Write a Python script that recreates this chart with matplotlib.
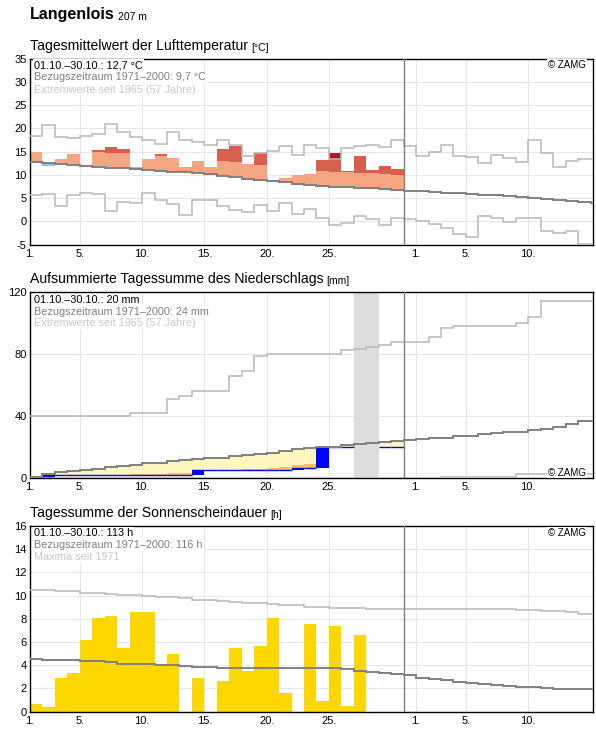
import numpy as np
import matplotlib.pyplot as plt

plt.rcParams['font.family'] = ['Liberation Sans', 'DejaVu Sans']
plt.rcParams['axes.unicode_minus'] = False

# --- Data (day 1 = 1. Oktober, day 32 = 1. November) ---
DAYS_OBS = np.arange(1, 31)
EDGES = np.arange(1, 48)

temp_mean = [14.8, 11.9, 13.4, 14.4, 11.7, 15.4, 15.9, 15.6, 11.6, 13.4,
             14.4, 13.5, 11.6, 12.9, 11.6, 15.6, 16.1, 12.4, 14.6, np.nan,
             9.4, 9.9, 10.1, 13.1, 14.6, 10.7, 14.1, 11.1, 11.8, 11.2]
temp_normal = [12.8, 12.6, 12.3, 12.1, 11.9, 11.7, 11.5, 11.5, 11.3, 11.1,
               10.9, 10.6, 10.5, 10.3, 10.1, 9.7, 9.5, 9.1, 8.9, 8.6,
               8.4, 8.1, 7.9, 7.6, 7.4, 7.3, 7.2, 7.1, 7.0, 6.8,
               6.6, 6.4, 6.3, 6.1, 6.0, 5.9, 5.7, 5.6, 5.4, 5.3,
               5.0, 4.8, 4.5, 4.3, 4.1, 4.0]
temp_max = [18.4, 20.7, 18.1, 17.9, 18.4, 18.8, 21.0, 19.1, 18.1, 17.4,
            16.6, 19.1, 17.4, 17.1, 16.3, 17.5, 16.4, 14.1, 14.7, 15.1,
            16.1, 14.3, 16.4, 15.8, 13.4, 15.8, 16.1, 16.4, 16.0, 17.4,
            16.2, 14.1, 14.9, 16.4, 14.1, 13.8, 12.6, 14.3, 13.6, 12.7,
            17.5, 14.7, 11.6, 12.9, 13.4, 13.4]
temp_min = [5.7, 5.9, 3.2, 5.7, 6.1, 5.9, 2.3, 4.2, 4.0, 6.1,
            4.6, 3.8, 1.4, 4.6, 4.6, 3.2, 2.5, 1.9, 3.4, 2.1,
            4.0, 1.6, 2.7, 0.6, -0.9, -0.3, 1.2, 0.4, -0.9, 0.6,
            0.4, 0.0, -0.5, -1.4, -2.8, -3.4, 1.2, 0.6, -0.1, 0.6,
            0.6, -2.1, -2.6, -2.1, -4.8, -4.8]
WARM_STEP = 3.2

prec_sum = [0.0, 2.0, 2.0, 2.0, 2.0, 2.0, 2.0, 2.0, 2.0, 2.0,
            2.0, 2.0, 2.0, 5.2, 5.2, 5.2, 5.2, 5.2, 5.2, 5.2,
            5.2, 6.5, 6.5, 19.9, 19.9, 19.9, np.nan, np.nan, 19.9, 19.9]
prec_dry = [0, 0, 0, 0, 0, 0, 0, 0, 3.0, 3.0,
            3.0, 3.6, 3.6, 4.0, 4.5, 4.8, 5.2, 6.0, 6.0, 6.7,
            7.6, 8.3, 9.4, 10.0, 10.5, 11.0, np.nan, np.nan, 12.0, 12.5]
prec_normal = [1.1, 2.6, 3.9, 4.5, 5.6, 6.3, 7.1, 8.0, 8.9, 9.6,
               10.0, 10.9, 11.5, 12.2, 12.8, 13.4, 14.3, 15.1, 15.9, 16.6,
               17.4, 18.6, 19.6, 20.1, 20.5, 21.2, 22.0, 22.7, 23.3, 24.0,
               24.8, 25.2, 25.7, 26.1, 27.0, 27.6, 28.5, 29.1, 29.6, 30.0,
               30.9, 32.0, 33.2, 35.2, 36.9, 36.9]
prec_max = [40.0, 40.0, 40.0, 40.0, 40.0, 40.0, 40.0, 40.0, 42.1, 42.1,
            42.1, 51.2, 52.9, 56.4, 56.4, 56.4, 65.9, 69.5, 79.0, 79.9,
            79.9, 79.9, 79.9, 79.9, 79.9, 82.7, 83.6, 84.5, 86.0, 87.7,
            87.7, 87.7, 91.4, 97.0, 98.5, 98.5, 98.5, 98.5, 98.5, 100.5,
            104.1, 114.5, 114.5, 114.5, 114.5, 114.5]
prec_min = [0] * 33 + [1.0] * 6 + [2.8] * 7
prec_missing = (27, 29)

sun_hours = [0.66, 0.37, 2.88, 3.31, 6.2, 8.1, 8.27, 5.5, 8.6, 8.6,
             4.0, 4.99, 0, 2.88, 0, 2.65, 5.5, 3.5, 5.68, 8.1,
             1.6, 0, 7.58, 0.92, 7.4, 0.49, 6.63, 0, 0, 0]
sun_normal = [4.52, 4.44, 4.44, 4.44, 4.41, 4.35, 4.27, 4.15, 4.15, 4.09,
              4.03, 4.03, 3.95, 3.83, 3.83, 3.8, 3.8, 3.75, 3.75, 3.75,
              3.75, 3.75, 3.75, 3.75, 3.75, 3.66, 3.52, 3.43, 3.34, 3.26,
              3.14, 2.88, 2.8, 2.71, 2.59, 2.51, 2.42, 2.33, 2.25, 2.16,
              2.1, 2.02, 1.93, 1.93, 1.93, 1.93]
sun_max = [10.49, 10.49, 10.4, 10.4, 10.23, 10.23, 10.14, 10.09, 10.09, 10.0,
           9.88, 9.88, 9.8, 9.65, 9.65, 9.57, 9.45, 9.34, 9.34, 9.28,
           9.19, 9.19, 9.02, 9.02, 8.93, 8.93, 8.93, 8.85, 8.85, 8.85,
           8.85, 8.85, 8.85, 8.85, 8.85, 8.85, 8.85, 8.85, 8.85, 8.76,
           8.76, 8.67, 8.67, 8.59, 8.41, 8.41]

xtick_pos = [1, 5, 10, 15, 20, 25, 32, 36, 41]
xtick_labels = ['1.', '5.', '10.', '15.', '20.', '25.', '1.', '5.', '10.']

C_NORMAL = '#808080'
C_EXTREME = '#b8b8b8'
W, H = 596, 729


def px_axes(top, bottom):
    return fig.add_axes([30 / W, 1 - bottom / H, 563 / W, (bottom - top) / H])


def setup(ax, ylim, yticks):
    ax.set_xlim(1, 46.2)
    ax.set_ylim(*ylim)
    ax.set_xticks(xtick_pos, xtick_labels)
    ax.set_yticks(yticks)
    ax.tick_params(length=0, labelsize=8, pad=2.5)
    ax.tick_params(axis='x', pad=3)
    ax.grid(True, color='#e6e6e6', lw=0.8)
    ax.set_axisbelow(True)
    for s in ax.spines.values():
        s.set_linewidth(1.0)
    ax.axvline(31, color=C_NORMAL, lw=1.0, zorder=4)


def info(ax, lines, top_offsets):
    colors = ['black', '#808080', '#c8c8c8']
    for txt, col, dy in zip(lines, colors, top_offsets):
        ax.annotate(txt, xy=(0, 1), xycoords='axes fraction', xytext=(3, -dy),
                    textcoords='offset points', va='center', ha='left',
                    fontsize=7.8, color=col, zorder=6,
                    bbox=dict(facecolor='white', edgecolor='none', pad=0.6))


def zamg(ax, y):
    ax.annotate('© ZAMG', xy=(1, y), xycoords='axes fraction', xytext=(-5, 0),
                textcoords='offset points', ha='right', va='center',
                fontsize=7, zorder=6,
                bbox=dict(facecolor='white', edgecolor='none', pad=0.6))


def title(y, main, unit):
    t = fig.text(30 / W, 1 - y / H, main, fontsize=10.1, va='baseline')
    fig.add_artist(plt.Annotation(unit, xy=(1, 0), xycoords=t, xytext=(2, 0),
                                  textcoords='offset points', fontsize=7.5,
                                  va='bottom', annotation_clip=False))


fig = plt.figure(figsize=(W / 100, H / 100), dpi=100)

# --- station header ---
st = fig.text(30 / W, 1 - 19 / H, 'Langenlois', fontsize=11.5,
              fontweight='bold', va='baseline')
fig.add_artist(plt.Annotation('207 m', xy=(1, 0), xycoords=st, xytext=(2.5, 0),
                              textcoords='offset points', fontsize=7.5,
                              va='bottom', annotation_clip=False))

# ---------------- Temperature ----------------
ax1 = px_axes(58.5, 244.5)
setup(ax1, (-5, 35), range(-5, 36, 5))

t = np.array(temp_mean, float)
n = np.array(temp_normal[:30])
mx = np.array(temp_max[:30])
thr = n + WARM_STEP

cold = t < n
ax1.bar(DAYS_OBS[cold], (n - t)[cold], bottom=t[cold], width=1, align='edge',
        color='#92c5de', lw=0, zorder=2)
warm = t > n
top1 = np.minimum(t, thr)
ax1.bar(DAYS_OBS[warm], (top1 - n)[warm], bottom=n[warm], width=1,
        align='edge', color='#f4a582', lw=0, zorder=2)
hot = t > thr
top2 = np.minimum(t, np.maximum(mx, thr))
ax1.bar(DAYS_OBS[hot], (top2 - thr)[hot], bottom=thr[hot], width=1,
        align='edge', color='#d6604d', lw=0, zorder=2)
rec = t > mx
ax1.bar(DAYS_OBS[rec], (t - mx)[rec], bottom=mx[rec], width=1, align='edge',
        color='#b2182b', lw=0, zorder=2)

ax1.stairs(temp_max, EDGES, baseline=None, color=C_EXTREME, lw=1.1, zorder=3)
ax1.stairs(temp_min, EDGES, baseline=None, color=C_EXTREME, lw=1.1, zorder=3)
ax1.stairs(temp_normal, EDGES, baseline=None, color=C_NORMAL, lw=1.4, zorder=3)

info(ax1, ['01.10.–30.10.: 12,7 °C', 'Bezugszeitraum 1971–2000: 9,7 °C',
           'Extremwerte seit 1965 (57 Jahre)'], [4.8, 13.6, 22.4])
zamg(ax1, 1 - 6.5 / 186)
title(50, 'Tagesmittelwert der Lufttemperatur', '[°C]')

# ---------------- Precipitation ----------------
ax2 = px_axes(292.3, 478.3)
setup(ax2, (0, 120), [0, 40, 80, 120])
ax2.axvspan(*prec_missing, color='#dddddd', lw=0, zorder=1.5)

ps = np.array(prec_sum, float)
pn = np.array(prec_normal[:30])
pdry = np.array(prec_dry, float)

below = ps < pn
ax2.bar(DAYS_OBS[below], (pn - ps)[below], bottom=ps[below], width=1,
        align='edge', color='#fff5bf', lw=0, zorder=2)
dry = pdry > ps
topd = np.minimum(pdry, pn)
ax2.bar(DAYS_OBS[dry], (topd - ps)[dry], bottom=ps[dry], width=1,
        align='edge', color='#fdc05a', lw=0, zorder=2)
prev = np.concatenate([[0.0], ps[:-1]])
rain = ps > prev
ax2.bar(DAYS_OBS[rain], (ps - prev)[rain], bottom=prev[rain], width=1,
        align='edge', color='#0000ff', lw=0, zorder=2.5)
ax2.hlines(ps, DAYS_OBS, DAYS_OBS + 1, color='#0000ff', lw=1.0, zorder=2.6)

ax2.stairs(prec_max, EDGES, baseline=None, color=C_EXTREME, lw=1.1, zorder=3)
ax2.stairs(prec_min, EDGES, baseline=None, color=C_EXTREME, lw=1.1, zorder=3)
ax2.stairs(prec_normal, EDGES, baseline=None, color=C_NORMAL, lw=1.4, zorder=3)

info(ax2, ['01.10.–30.10.: 20 mm', 'Bezugszeitraum 1971–2000: 24 mm',
           'Extremwerte seit 1965 (57 Jahre)'], [5.6, 14.2, 22.4])
zamg(ax2, 5.8 / 186)
title(283.5, 'Aufsummierte Tagessumme des Niederschlags', '[mm]')

# ---------------- Sunshine ----------------
ax3 = px_axes(526, 711.7)
setup(ax3, (0, 16), range(0, 17, 2))
ax3.bar(DAYS_OBS, sun_hours, width=1, align='edge', color='#ffd700', lw=0,
        zorder=2)
ax3.stairs(sun_max, EDGES, baseline=None, color=C_EXTREME, lw=1.1, zorder=3)
ax3.stairs(sun_normal, EDGES, baseline=None, color=C_NORMAL, lw=1.4, zorder=3)

info(ax3, ['01.10.–30.10.: 113 h', 'Bezugszeitraum 1971–2000: 116 h',
           'Maxima seit 1971'], [5.0, 13.8, 22.4])
zamg(ax3, 1 - 7.3 / 186)
title(517, 'Tagessumme der Sonnenscheindauer', '[h]')

fig.savefig('out.png', dpi=100)
